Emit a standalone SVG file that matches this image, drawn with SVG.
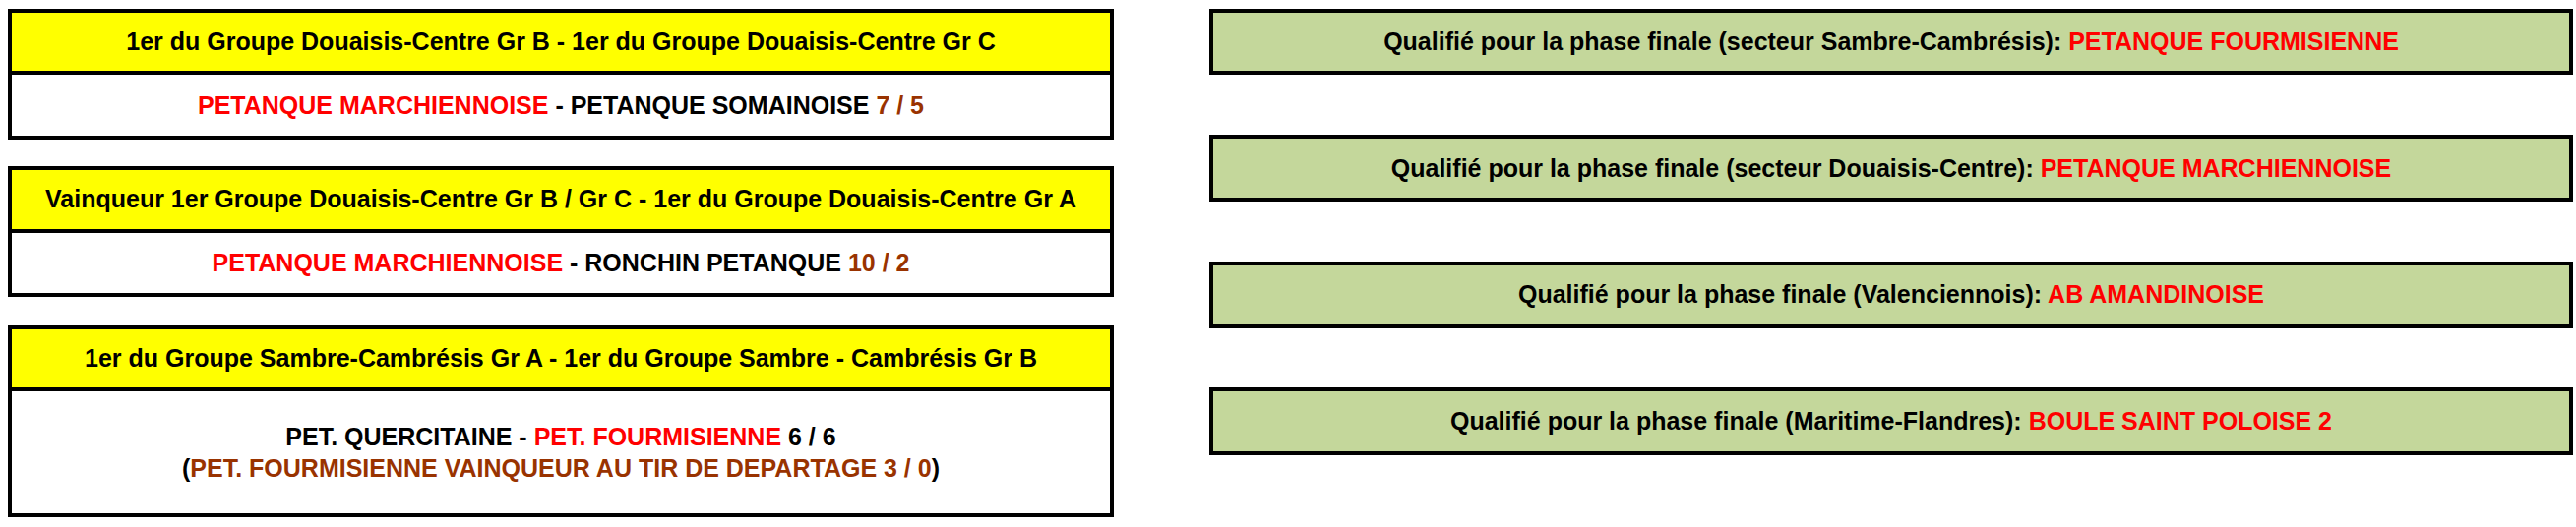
<svg xmlns="http://www.w3.org/2000/svg" width="2618" height="536" viewBox="0 0 2618 536">
<style>
text{font-family:"Liberation Sans",Arial,sans-serif;font-weight:bold;font-size:25px;text-anchor:middle;fill:#000}
.r{fill:#FF0000}.b{fill:#993300}
.y{fill:#FFFF00;stroke:#000;stroke-width:4}
.w{fill:#FFFFFF;stroke:#000;stroke-width:4}
.g{fill:#C4D79B;stroke:#000;stroke-width:4}
</style>
<rect width="2618" height="536" fill="#fff"/>
<g id="match1">
<rect class="y" x="10" y="11" width="1120" height="63"/>
<rect class="w" x="10" y="74" width="1120" height="66"/>
<text x="570" y="51">1er du Groupe Douaisis-Centre Gr B - 1er du Groupe Douaisis-Centre Gr C</text>
<text x="570" y="116"><tspan class="r">PETANQUE MARCHIENNOISE</tspan> - PETANQUE SOMAINOISE <tspan class="b">7 / 5</tspan></text>
</g>
<g id="match2">
<rect class="y" x="10" y="171" width="1120" height="64"/>
<rect class="w" x="10" y="235" width="1120" height="65"/>
<text x="570" y="211">Vainqueur 1er Groupe Douaisis-Centre Gr B / Gr C - 1er du Groupe Douaisis-Centre Gr A</text>
<text x="570" y="276"><tspan class="r">PETANQUE MARCHIENNOISE</tspan> - RONCHIN PETANQUE <tspan class="b">10 / 2</tspan></text>
</g>
<g id="match3">
<rect class="y" x="10" y="333" width="1120" height="63"/>
<rect class="w" x="10" y="396" width="1120" height="128"/>
<text x="570" y="373">1er du Groupe Sambre-Cambrésis Gr A - 1er du Groupe Sambre - Cambrésis Gr B</text>
<text x="570" y="453">PET. QUERCITAINE - <tspan class="r">PET. FOURMISIENNE</tspan> 6 / 6</text>
<text x="570" y="485">(<tspan class="b">PET. FOURMISIENNE VAINQUEUR AU TIR DE DEPARTAGE 3 / 0</tspan>)</text>
</g>
<g id="q1">
<rect class="g" x="1231" y="11" width="1382" height="63"/>
<text x="1922" y="51">Qualifié pour la phase finale (secteur Sambre-Cambrésis): <tspan class="r">PETANQUE FOURMISIENNE</tspan></text>
</g>
<g id="q2">
<rect class="g" x="1231" y="139" width="1382" height="64"/>
<text x="1922" y="180">Qualifié pour la phase finale (secteur Douaisis-Centre): <tspan class="r">PETANQUE MARCHIENNOISE</tspan></text>
</g>
<g id="q3">
<rect class="g" x="1231" y="268" width="1382" height="64"/>
<text x="1922" y="308">Qualifié pour la phase finale (Valenciennois): <tspan class="r">AB AMANDINOISE</tspan></text>
</g>
<g id="q4">
<rect class="g" x="1231" y="396" width="1382" height="65"/>
<text x="1922" y="437">Qualifié pour la phase finale (Maritime-Flandres): <tspan class="r">BOULE SAINT POLOISE 2</tspan></text>
</g>
<g id="connectors"/>
</svg>
